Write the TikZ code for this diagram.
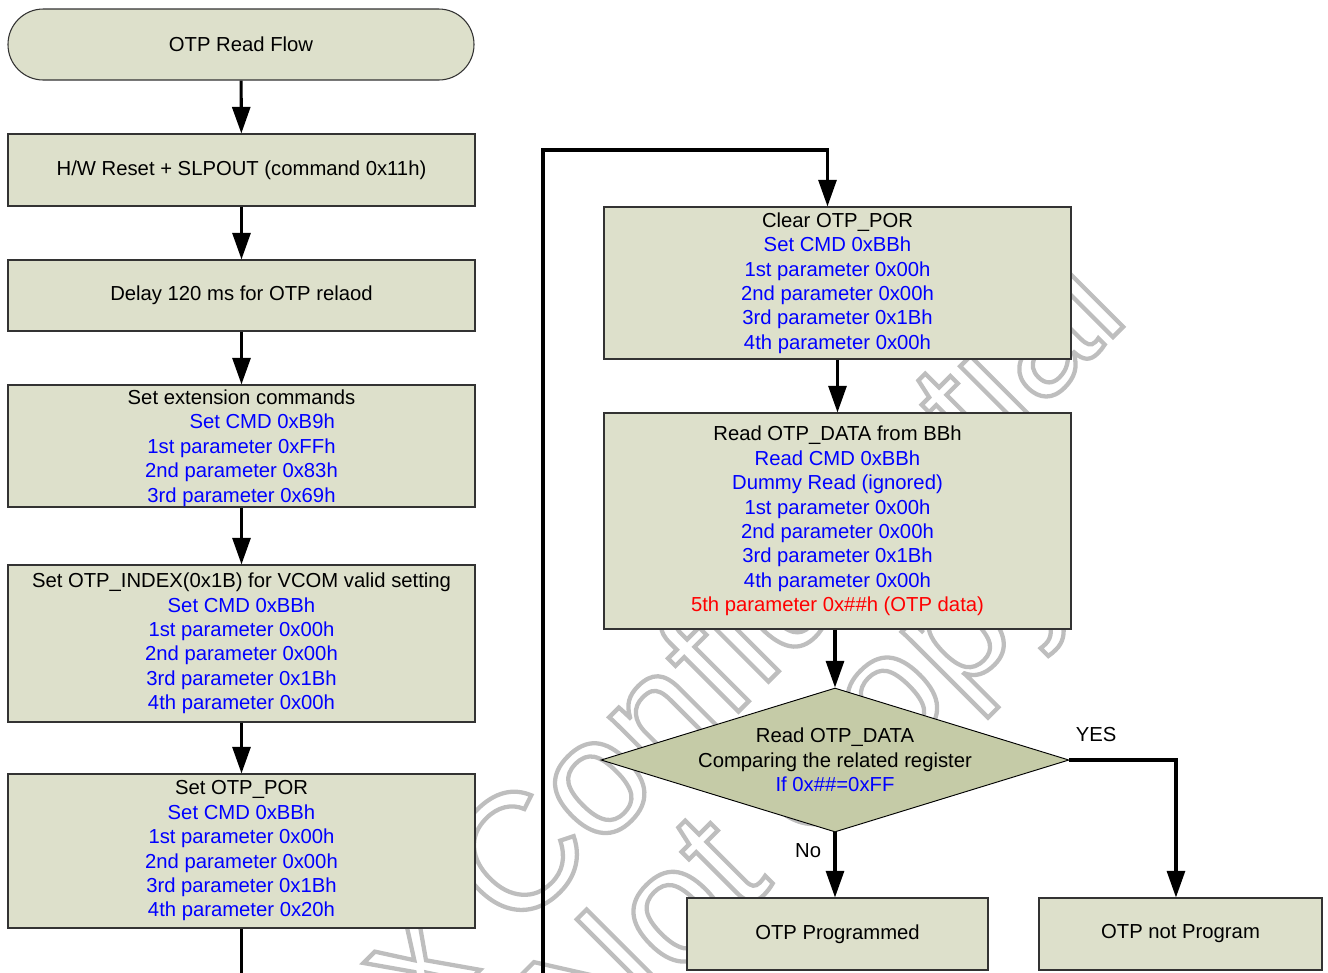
\documentclass[tikz,border=0pt]{standalone}
\usepackage{fontspec}
\setmainfont{Liberation Sans}
\usepackage{tikz}
\usetikzlibrary{
	arrows.meta, shapes.geometric
}
\definecolor{boxfill}       {RGB}{221, 224, 203}
\definecolor{decfill}       {RGB}{197, 203, 167}
\definecolor{cmdblue}       {RGB}{0,    0,  255}
\definecolor{datared}       {RGB}{255,  0,    0}
\definecolor{markgray}      {RGB}{190, 190, 190}

\tikzset{
	stepbox/.style={draw=black!80, line width=0.8pt, fill=boxfill, align=center,
		inner sep=0pt, minimum width=350.25pt},
	termbox/.style={stepbox, rounded corners=26.5pt, minimum width=349.5pt, minimum height=53.25pt},
	decbox/.style={diamond, draw=black, line width=0.7pt, fill=decfill, inner sep=0pt,
		minimum width=351pt, minimum height=108pt},
	flow/.style={line width=2.3pt, -{Triangle[width=13.5pt,length=20pt]}},
	markword/.style={rotate=45, anchor=base west, inner sep=0pt, text=markgray,
		font=\fontsize{124}{124}\selectfont}
}
\newcommand{\cmd}[1]{\textcolor{cmdblue}{#1}}
% outlined letters: stroke only, no fill
\newcommand{\hollow}[1]{\special{pdf:literal direct 1 Tr 3.2 w}#1\special{pdf:literal direct 0 Tr}}

\begin{document}
\begin{tikzpicture}[x=0.75pt, y=-0.75pt, font=\fontsize{15.2}{18.3}\selectfont]
	\useasboundingbox (0,0) rectangle (1328,972);
	\clip (0,0) rectangle (1328,972);

	% watermark
	\node[markword] (markA) at (150,1300) {\hollow{Himax Confidential}};
	\node[markword] (markB) at (592,1065) {\hollow{Not Copy}};

	% left column
	\node[termbox] (start) at (241,44.5) {OTP Read Flow};
	\node[stepbox, minimum height=54pt] (hw) at (241.5,170) {H/W Reset + SLPOUT (command 0x11h)};
	\node[stepbox, minimum height=53.25pt] (delay) at (241.5,295.5) {Delay 120 ms for OTP relaod};
	\node[stepbox, minimum height=91.5pt, text depth=0pt] (ext) at (241.5,446) {Set extension commands\\
		\hspace*{31pt}\cmd{Set CMD 0xB9h}\\ \cmd{1st parameter 0xFFh}\\
		\cmd{2nd parameter 0x83h}\\ \cmd{3rd parameter 0x69h}};
	\node[stepbox, minimum height=117.75pt] (idx) at (241.5,643.5) {Set OTP\_INDEX(0x1B) for VCOM valid setting\\
		\cmd{Set CMD 0xBBh}\\ \cmd{1st parameter 0x00h}\\ \cmd{2nd parameter 0x00h}\\
		\cmd{3rd parameter 0x1Bh}\\ \cmd{4th parameter 0x00h}};
	\node[stepbox, minimum height=115.5pt] (por) at (241.5,851) {Set OTP\_POR\\
		\cmd{Set CMD 0xBBh}\\ \cmd{1st parameter 0x00h}\\ \cmd{2nd parameter 0x00h}\\
		\cmd{3rd parameter 0x1Bh}\\ \cmd{4th parameter 0x20h}};

	% right column
	\node[stepbox, minimum height=114pt] (clr) at (837.5,283) {Clear OTP\_POR\\
		\cmd{Set CMD 0xBBh}\\ \cmd{1st parameter 0x00h}\\ \cmd{2nd parameter 0x00h}\\
		\cmd{3rd parameter 0x1Bh}\\ \cmd{4th parameter 0x00h}};
	\node[stepbox, minimum height=162pt] (rd) at (837.5,521) {Read OTP\_DATA from BBh\\
		\cmd{Read CMD 0xBBh}\\ \cmd{Dummy Read (ignored)}\\ \cmd{1st parameter 0x00h}\\
		\cmd{2nd parameter 0x00h}\\ \cmd{3rd parameter 0x1Bh}\\ \cmd{4th parameter 0x00h}\\
		\textcolor{datared}{5th parameter 0x\#\#h (OTP data)}};
	\node[decbox] (cmp) at (835,760) {};
	\node[align=center, inner sep=0pt] (cmptext) at (cmp) {Read OTP\_DATA\\
		Comparing the related register\\ \cmd{If 0x\#\#=0xFF}};
	\node[stepbox, minimum width=225.75pt, minimum height=54pt] (prog) at (837.5,934) {OTP Programmed};
	\node[stepbox, minimum width=212.25pt, minimum height=54pt] (notprog) at (1180.5,934) {OTP not Program};

	% connectors
	\draw[flow] (start) -- (hw);
	\draw[flow] (hw) -- (delay);
	\draw[flow] (delay) -- (ext);
	\draw[flow] (ext) -- (idx);
	\draw[flow] (idx) -- (por);
	\draw[flow] (por.south) |- (543,1010) -- (543,150) -| ([xshift=-7.5pt]clr.north);
	\draw[flow] (clr) -- (rd);
	\draw[flow] (cmp.north |- rd.south) -- (cmp.north);
	\draw[flow] (cmp.south) -- node[pos=0.28, left=6pt] (nolabel) {No} (cmp.south |- prog.north);
	\draw[flow] (cmp.east) -| node[pos=0.125, above=9pt] (yeslabel) {YES} ([xshift=-3.4pt]notprog.north);
\end{tikzpicture}
\end{document}
